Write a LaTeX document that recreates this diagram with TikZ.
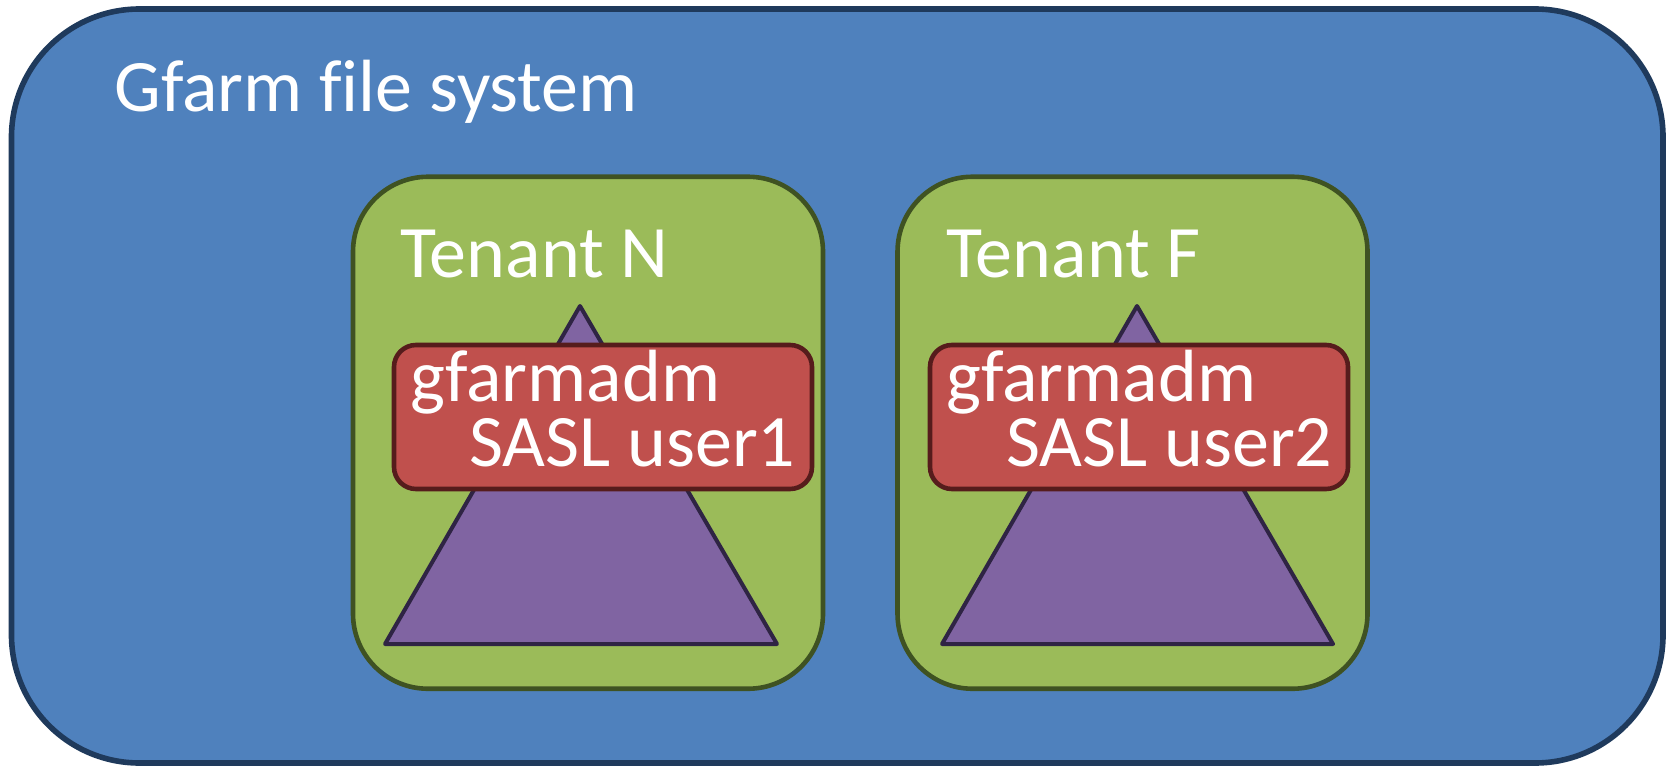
\documentclass[tikz,border=0pt]{standalone}
\usepackage{fontspec}
\setmainfont{Carlito}[Ligatures=NoCommon]
\usepackage{tikz}
\usetikzlibrary{positioning}
\definecolor{fsblue}{HTML}{4F81BD}
\definecolor{fsline}{HTML}{1F3A5C}
\definecolor{tgreen}{HTML}{9BBB59}
\definecolor{tline}{HTML}{3F5222}
\definecolor{ured}{HTML}{C0504D}
\definecolor{uline}{HTML}{561C1C}
\definecolor{tpurple}{HTML}{8064A2}
\definecolor{pline}{HTML}{2F2444}
\tikzset{
  fsbox/.style = {rectangle, draw=fsline, fill=fsblue, line width=2.8pt,
    rounded corners=64pt, minimum width=825.75pt, minimum height=377pt,
    inner sep=0pt},
  tenantbox/.style = {rectangle, draw=tline, fill=tgreen, line width=2.3pt,
    rounded corners=37.5pt, minimum width=235pt, minimum height=256pt,
    inner sep=0pt},
  userbox/.style = {rectangle, draw=uline, fill=ured, line width=2.3pt,
    rounded corners=11pt, minimum width=209pt, minimum height=72pt,
    inner sep=0pt},
  dirtree/.style = {draw=pline, fill=tpurple, line width=2pt,
    line join=round},
  lbl/.style = {anchor=base west, inner sep=0pt, text=white,
    font=\fontsize{37pt}{37pt}\selectfont}
}

\begin{document}
\begin{tikzpicture}[x=0.5pt, y=-0.5pt]
\useasboundingbox (0,0) rectangle (1669,765);
% file system
\node [fsbox] (fs) at (837.25,386) {};
\node [lbl] (fsname) at (114,112) {Gfarm file system};
% tenants
\node [tenantbox] (tenN) at (588,432.75) {};
\node [tenantbox] (tenF) at (1132.5,432.75) {};
\node [lbl] (tenNname) at (400,277) {Tenant N};
\node [lbl] (tenFname) at (946,277) {Tenant F};
% directory trees
\draw [dirtree] (580,306) -- (385,644) -- (777,644) -- cycle;
\draw [dirtree] (1137,306) -- (942,644) -- (1333,644) -- cycle;
% admin users
\node [userbox] (admN) at (603,417) {};
\node [userbox] (admF) at (1139,417) {};
\node [lbl] (admNa) at (410,401) {gfarmadm};
\node [lbl] (admNb) at (469,466.5) {SASL user1};
\node [lbl] (admFa) at (946,401) {gfarmadm};
\node [lbl] (admFb) at (1006,466.5) {SASL user2};
\end{tikzpicture}
\end{document}
